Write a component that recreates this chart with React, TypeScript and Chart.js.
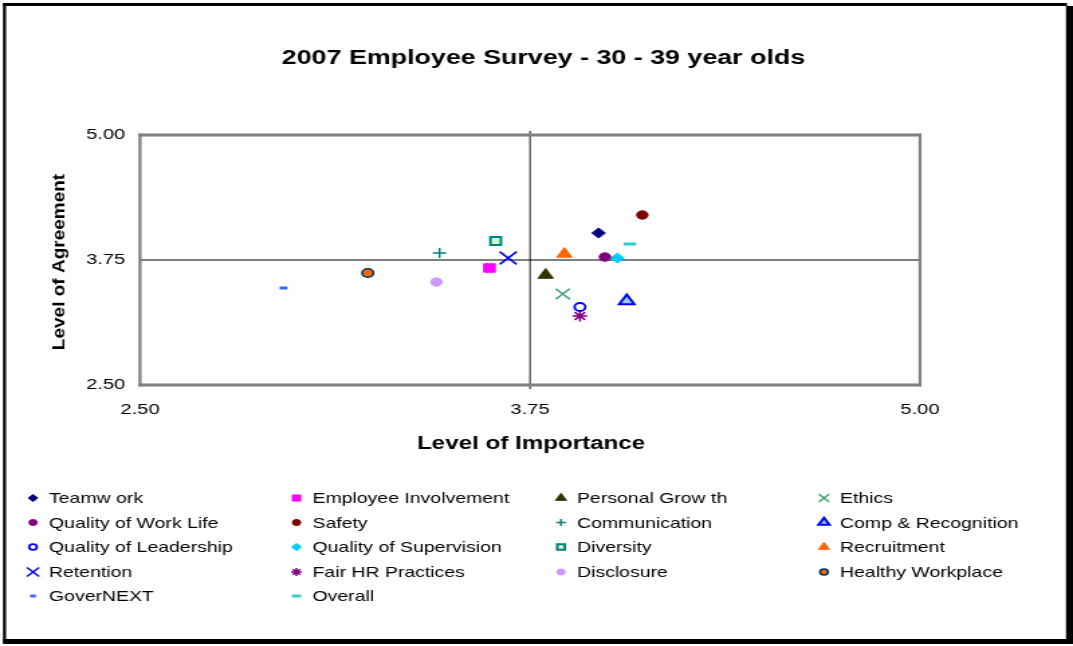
import React, { useEffect, useRef } from "react";
import { Chart, registerables } from "chart.js";
import { drawPoint } from "chart.js/helpers";

Chart.register(...registerables);

// ---- data -------------------------------------------------------------
const categories = [
  "Teamw ork",
  "Employee Involvement",
  "Personal Grow th",
  "Ethics",
  "Quality of Work Life",
  "Safety",
  "Communication",
  "Comp & Recognition",
  "Quality of Leadership",
  "Quality of Supervision",
  "Diversity",
  "Recruitment",
  "Retention",
  "Fair HR Practices",
  "Disclosure",
  "Healthy Workplace",
  "GoverNEXT",
  "Overall",
];

// Level of Importance (x)
const importance = [
  3.97, 3.62, 3.8, 3.855, 3.99, 4.11, 3.46, 4.06, 3.91, 4.03, 3.64, 3.86, 3.68,
  3.91, 3.45, 3.23, 2.96, 4.07,
];

// Level of Agreement (y)
const agreement = [
  4.02, 3.67, 3.6, 3.41, 3.78, 4.2, 3.82, 3.34, 3.28, 3.77, 3.94, 3.81, 3.77,
  3.19, 3.53, 3.62, 3.47, 3.91,
];

const axisTicks = [2.5, 3.75, 5.0];
const midpoint = 3.75;

const chartTitle = "2007 Employee Survey - 30 - 39 year olds";
const xTitle = "Level of Importance";
const yTitle = "Level of Agreement";

// ---- marker styles (one per category) ----------------------------------
type Marker = { style: string; radius: number; fill: string; stroke: string; width: number };
const markers: Marker[] = [
  { style: "rectRot", radius: 5, fill: "#000080", stroke: "#000080", width: 1 },
  { style: "rect", radius: 6, fill: "#FF00FF", stroke: "#FF00FF", width: 1 },
  { style: "triangle", radius: 6.5, fill: "#333300", stroke: "#333300", width: 1 },
  { style: "crossRot", radius: 7.5, fill: "#339966", stroke: "#339966", width: 1.3 },
  { style: "circle", radius: 4.2, fill: "#800080", stroke: "#800080", width: 1 },
  { style: "circle", radius: 4.2, fill: "#800000", stroke: "#800000", width: 1 },
  { style: "cross", radius: 5, fill: "#008080", stroke: "#008080", width: 1.5 },
  { style: "triangle", radius: 6.5, fill: "#99CCFF", stroke: "#0000FF", width: 2 },
  { style: "circle", radius: 4, fill: "#FFFFFF", stroke: "#0000FF", width: 1.8 },
  { style: "rectRot", radius: 5, fill: "#00CCFF", stroke: "#00CCFF", width: 1 },
  { style: "rect", radius: 5.5, fill: "#CCFFCC", stroke: "#008080", width: 2 },
  { style: "triangle", radius: 6.5, fill: "#FF6600", stroke: "#FF6600", width: 1 },
  { style: "crossRot", radius: 9, fill: "#0000FF", stroke: "#0000FF", width: 1.5 },
  { style: "star", radius: 5.5, fill: "#800080", stroke: "#800080", width: 1.5 },
  { style: "circle", radius: 4.2, fill: "#CC99FF", stroke: "#CC99FF", width: 1 },
  { style: "circle", radius: 4.2, fill: "#FF6600", stroke: "#003366", width: 1.6 },
  { style: "line", radius: 2.9, fill: "#3366FF", stroke: "#3366FF", width: 3 },
  { style: "line", radius: 4.7, fill: "#33CCCC", stroke: "#33CCCC", width: 3 },
];

// ---- geometry -----------------------------------------------------------
// The canvas is drawn at a narrower internal width and stretched to the page width.
const W = 800;
const H = 646;
const PAGE_W = 1073;
const S = PAGE_W / W;
const dx = (v: number) => v / S;

const FONT = "'Liberation Sans', Arial, Helvetica, sans-serif";

const PLOT = { left: 140, right: 920, top: 135, bottom: 385 };

const legendCols = [33, 296.5, 561, 824];
const legendRows = [498, 522.5, 547, 572, 596];
const legendTextGap = 16;

const decorations = {
  id: "decorations",
  beforeDraw(chart: any) {
    const ctx = chart.ctx as CanvasRenderingContext2D;
    ctx.save();
    ctx.fillStyle = "#FFFFFF";
    ctx.fillRect(0, 0, chart.width, chart.height);
    // outer frame with drop shadow on right/bottom
    ctx.fillStyle = "#000000";
    ctx.fillRect(dx(3), 3, dx(1064), 3);
    ctx.fillRect(dx(3), 3, dx(3), 640);
    ctx.fillRect(dx(1066), 6, dx(7), 638);
    ctx.fillRect(dx(3), 639, dx(1070), 5);
    ctx.restore();
  },
  beforeDatasetsDraw(chart: any) {
    const ctx = chart.ctx as CanvasRenderingContext2D;
    const { left, right, top, bottom } = chart.chartArea;
    const cx = chart.scales.x.getPixelForValue(midpoint);
    const cy = chart.scales.y.getPixelForValue(midpoint);
    ctx.save();
    // quadrant dividers
    ctx.fillStyle = "#000000";
    ctx.fillRect(left, cy - 0.5, right - left, 1);
    ctx.fillRect(cx - dx(0.6), top - 4, dx(1.2), bottom - top + 8);
    // plot border
    ctx.fillStyle = "#808080";
    const t = 3;
    ctx.fillRect(left - dx(t / 2), top - t / 2, right - left + dx(t), t);
    ctx.fillRect(left - dx(t / 2), bottom - t / 2, right - left + dx(t), t);
    ctx.fillRect(left - dx(t / 2), top - t / 2, dx(t), bottom - top + t);
    ctx.fillRect(right - dx(t / 2), top - t / 2, dx(t), bottom - top + t);
    ctx.restore();
  },
  afterDraw(chart: any) {
    const ctx = chart.ctx as CanvasRenderingContext2D;
    ctx.save();
    ctx.fillStyle = "#000000";

    // chart title
    ctx.font = `bold 20px ${FONT}`;
    ctx.textAlign = "center";
    ctx.textBaseline = "alphabetic";
    ctx.fillText(chartTitle, dx(543.5), 64);

    // x-axis title
    ctx.font = `bold 18px ${FONT}`;
    ctx.fillText(xTitle, dx(531), 449);

    // y-axis title, rotated
    ctx.save();
    ctx.translate(dx(64), 262);
    ctx.rotate(-Math.PI / 2);
    ctx.scale(1, 0.66);
    ctx.font = `bold 19px ${FONT}`;
    ctx.textAlign = "center";
    ctx.fillText(yTitle, 0, 0);
    ctx.restore();

    // legend: four columns, row-major
    ctx.font = `14.5px ${FONT}`;
    ctx.textAlign = "left";
    ctx.textBaseline = "middle";
    categories.forEach((name, i) => {
      const col = i % 4;
      const row = Math.floor(i / 4);
      const mx = dx(legendCols[col]);
      const my = legendRows[row];
      const m = markers[i];
      ctx.save();
      ctx.fillStyle = m.fill;
      ctx.strokeStyle = m.stroke;
      ctx.lineWidth = m.width;
      drawPoint(ctx, { pointStyle: m.style as any, radius: m.radius * 0.72, rotation: 0, borderWidth: m.width }, mx, my);
      ctx.restore();
      ctx.fillStyle = "#000000";
      ctx.fillText(name, mx + dx(legendTextGap), my + 1);
    });
    ctx.restore();
  },
};

export default function App() {
  const ref = useRef<HTMLCanvasElement | null>(null);

  useEffect(() => {
    document.body.style.margin = "0";
    const canvas = ref.current;
    if (!canvas) return;

    const datasets = categories.map((label, i) => {
      const m = markers[i];
      return {
        label,
        data: [{ x: importance[i], y: agreement[i] }],
        pointStyle: m.style as any,
        pointRadius: m.radius,
        pointHoverRadius: m.radius,
        pointBackgroundColor: m.fill,
        pointBorderColor: m.stroke,
        pointBorderWidth: m.width,
        backgroundColor: m.fill,
        borderColor: m.stroke,
      };
    });

    const tickFont = { family: FONT, size: 15 };

    const chart = new Chart(canvas, {
      type: "scatter",
      data: { datasets },
      plugins: [decorations],
      options: {
        responsive: false,
        animation: false,
        devicePixelRatio: 1,
        layout: {
          padding: { left: 0, top: PLOT.top, right: W - dx(PLOT.right), bottom: 0 },
        },
        plugins: {
          legend: { display: false },
          title: { display: false },
          tooltip: { enabled: false },
        },
        scales: {
          x: {
            type: "linear",
            min: axisTicks[0],
            max: axisTicks[axisTicks.length - 1],
            afterBuildTicks: (s: any) => {
              s.ticks = axisTicks.map((v) => ({ value: v }));
            },
            afterFit: (s: any) => {
              s.height = H - PLOT.bottom;
            },
            grid: { display: false, drawTicks: false },
            border: { display: false },
            ticks: {
              autoSkip: false,
              maxRotation: 0,
              padding: 16,
              color: "#000000",
              font: tickFont,
              callback: (v: any) => Number(v).toFixed(2),
            },
          },
          y: {
            type: "linear",
            min: axisTicks[0],
            max: axisTicks[axisTicks.length - 1],
            afterBuildTicks: (s: any) => {
              s.ticks = axisTicks.map((v) => ({ value: v }));
            },
            afterFit: (s: any) => {
              s.width = dx(PLOT.left);
            },
            grid: { display: false, drawTicks: false },
            border: { display: false },
            ticks: {
              autoSkip: false,
              padding: 11,
              color: "#000000",
              font: tickFont,
              callback: (v: any) => Number(v).toFixed(2),
            },
          },
        },
      } as any,
    });

    return () => chart.destroy();
  }, []);

  return (
    <canvas
      ref={ref}
      width={W}
      height={H}
      style={{ display: "block", width: `${PAGE_W}px`, height: `${H}px` }}
    />
  );
}
